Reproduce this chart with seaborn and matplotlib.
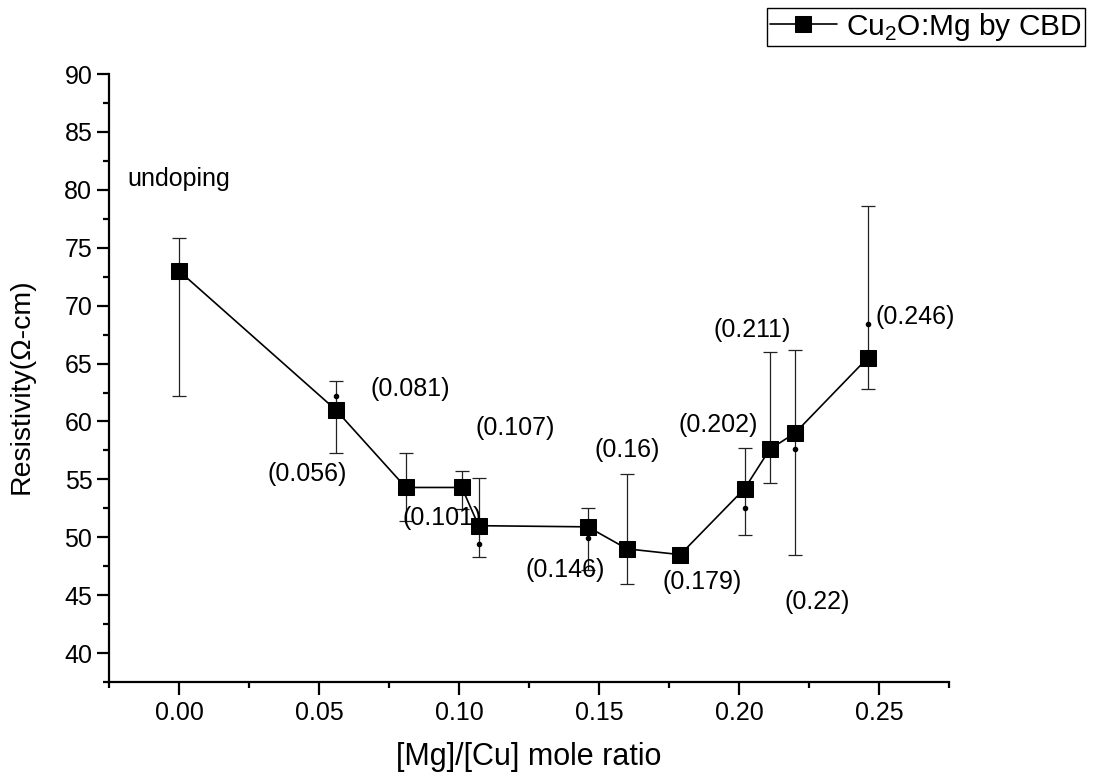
import matplotlib
matplotlib.use("Agg")
import matplotlib.pyplot as plt
from matplotlib.ticker import MultipleLocator, FormatStrFormatter
import numpy as np
import pandas as pd
import seaborn as sns

# measured points (squares)
mg_ratio = [0.0, 0.056, 0.081, 0.101, 0.107, 0.146, 0.160, 0.179, 0.202, 0.211, 0.220, 0.246]
resistivity = [73.0, 61.0, 54.3, 54.3, 51.0, 50.9, 49.0, 48.5, 54.2, 57.6, 59.0, 65.5]
# error bar ends (absolute values)
err_low = [62.2, 57.3, 51.4, 52.4, 48.3, 47.2, 46.0, 48.3, 50.2, 54.7, 48.5, 62.8]
err_high = [75.8, 63.5, 57.3, 55.7, 55.1, 52.5, 55.5, 48.7, 57.7, 66.0, 66.2, 78.6]
# small dots (mean values) visible off the squares
dot_x = [0.056, 0.107, 0.146, 0.202, 0.220, 0.246]
dot_y = [62.2, 49.4, 49.9, 52.5, 57.6, 68.4]

point_labels = ["undoping", "(0.056)", "(0.081)", "(0.101)", "(0.107)", "(0.146)",
                "(0.16)", "(0.179)", "(0.202)", "(0.211)", "(0.22)", "(0.246)"]
label_pos = [(0.0, 80.9), (0.0457, 55.5), (0.0825, 62.8), (0.094, 51.7), (0.120, 59.4),
             (0.138, 47.2), (0.160, 57.5), (0.187, 46.1), (0.1925, 59.7), (0.2046, 67.9),
             (0.228, 44.4), (0.263, 69.0)]

df = pd.DataFrame({"ratio": mg_ratio, "rho": resistivity})

sns.set_style("ticks")
plt.rcParams["font.family"] = ["Liberation Sans", "DejaVu Sans"]
plt.rcParams["mathtext.fontset"] = "custom"
plt.rcParams["mathtext.rm"] = "Liberation Sans"
for key in ("text.color", "axes.labelcolor", "xtick.color", "ytick.color", "axes.edgecolor"):
    plt.rcParams[key] = "black"

fig = plt.figure(figsize=(10.98, 7.80), dpi=100)
ax = fig.add_axes([0.0993, 0.1256, 0.765, 0.7795])

rho = np.array(resistivity)
yerr = [rho - np.array(err_low), np.array(err_high) - rho]
ax.errorbar(mg_ratio, resistivity, yerr=yerr, fmt="none", ecolor="#222222",
            elinewidth=0.9, capsize=5, capthick=0.9, zorder=2)
ax.plot(dot_x, dot_y, "o", color="black", markersize=3, zorder=3)

sns.lineplot(data=df, x="ratio", y="rho", marker="s", markersize=11, color="black",
             markeredgecolor="black", linewidth=1.2, ax=ax, legend=False, zorder=4,
             label="Cu$_\\mathregular{2}$O:Mg by CBD")

for txt, (tx, ty) in zip(point_labels, label_pos):
    ax.text(tx, ty, txt, fontsize=18, ha="center", va="center")

ax.set_xlim(-0.025, 0.275)
ax.set_ylim(37.5, 90)
ax.xaxis.set_major_locator(MultipleLocator(0.05))
ax.xaxis.set_minor_locator(MultipleLocator(0.025))
ax.yaxis.set_major_locator(MultipleLocator(5))
ax.yaxis.set_minor_locator(MultipleLocator(2.5))
ax.xaxis.set_major_formatter(FormatStrFormatter("%.2f"))

sns.despine(ax=ax)
for s in ("left", "bottom"):
    ax.spines[s].set_linewidth(1.6)
ax.tick_params(which="major", direction="out", length=9, width=1.6, labelsize=18)
ax.tick_params(which="minor", direction="out", length=4.5, width=1.6)
ax.tick_params(axis="x", which="major", pad=5)
ax.tick_params(axis="y", which="major", pad=3)

ax.set_xlabel("[Mg]/[Cu] mole ratio", fontsize=22, labelpad=12)
ax.set_ylabel("Resistivity(Ω-cm)", fontsize=20.5)
ax.yaxis.set_label_coords(-0.088, 0.487)

handles, labels = ax.get_legend_handles_labels()
leg = fig.legend(handles, labels, loc="upper right", bbox_to_anchor=(0.988, 0.99),
                 fontsize=21.5, frameon=True, fancybox=False, edgecolor="black",
                 framealpha=1, borderaxespad=0, handlelength=2.25, borderpad=0.1,
                 handletextpad=0.3)
leg.get_frame().set_linewidth(1.0)

fig.savefig("out.png", dpi=100)
